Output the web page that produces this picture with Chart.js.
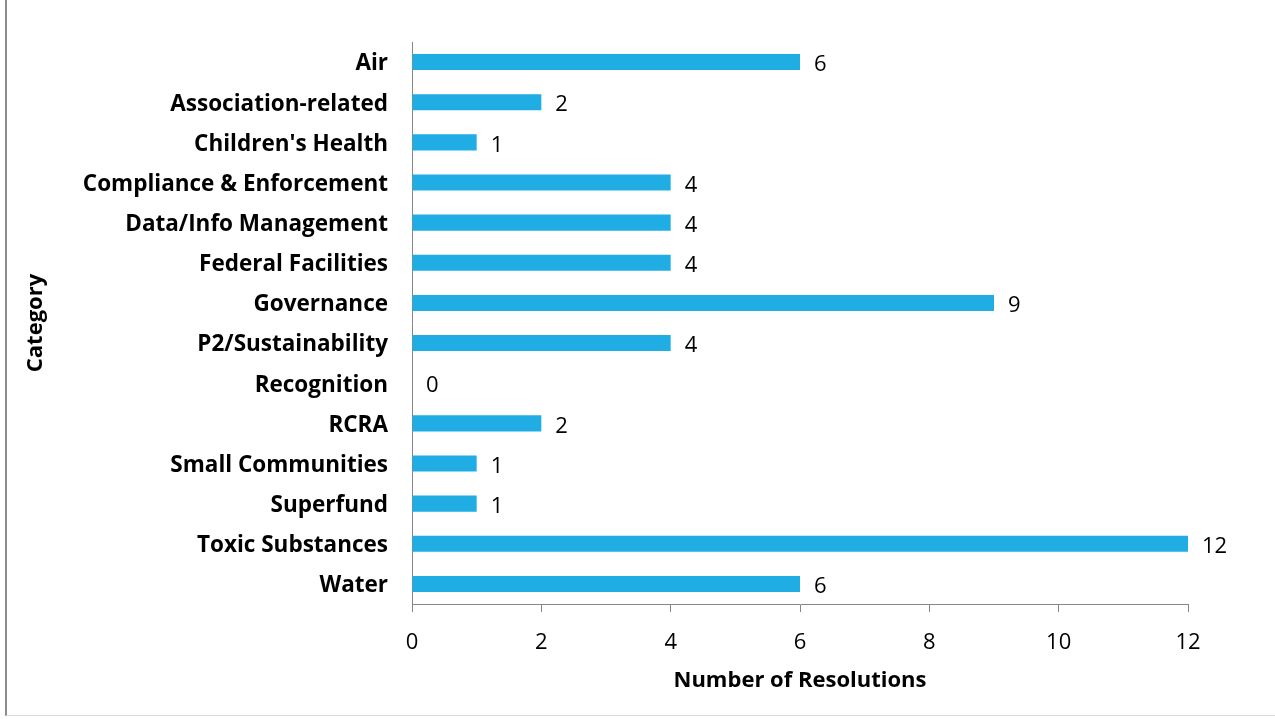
<!DOCTYPE html>
<html><head><meta charset="utf-8">
<script src="https://cdn.jsdelivr.net/npm/chart.js@4.4.1/dist/chart.umd.min.js"></script>
<style>
html,body{margin:0;padding:0;background:#fff;}
#wrap{position:absolute;left:0;top:0;width:1275px;height:719px;}
#frame{position:absolute;left:5px;top:-2px;width:1280px;height:718px;border-left:2px solid #8c8c8c;border-bottom:1px solid #d9d9d9;box-sizing:border-box;pointer-events:none;}
canvas{position:absolute;left:0;top:0;}
</style></head>
<body>
<div id="wrap"><canvas id="c" width="1275" height="719"></canvas><div id="frame"></div></div>
<script>
const categories = ["Air","Association-related","Children's Health","Compliance & Enforcement","Data/Info Management","Federal Facilities","Governance","P2/Sustainability","Recognition","RCRA","Small Communities","Superfund","Toxic Substances","Water"];
const resolutions = [6,2,1,4,4,4,9,4,0,2,1,1,12,6];
const xTicks = [0,2,4,6,8,10,12];
const xTitle = "Number of Resolutions";
const yTitle = "Category";

const FONT = "'Open Sans', sans-serif";
const axisColor = '#868686';

const labelPlugin = {
  id:'barLabels',
  afterDatasetsDraw(chart){
    const ctx = chart.ctx;
    const meta = chart.getDatasetMeta(0);
    ctx.save();
    ctx.font = "22px " + FONT;
    ctx.fillStyle = '#000';
    ctx.textBaseline = 'middle';
    ctx.textAlign = 'left';
    meta.data.forEach((el,i)=>{
      ctx.fillText(String(resolutions[i]), el.x + 14, el.y + 3);
    });
    ctx.restore();
  }
};

new Chart(document.getElementById('c'), {
  type:'bar',
  data:{labels:categories, datasets:[{data:resolutions, backgroundColor:'#1FADE4', borderWidth:0, barPercentage:0.4, categoryPercentage:1.0}]},
  options:{
    indexAxis:'y', responsive:false, animation:false, devicePixelRatio:1,
    layout:{padding:{left:0, top:42, right:87, bottom:0}},
    plugins:{legend:{display:false}, tooltip:{enabled:false}},
    scales:{
      x:{
        min:0, max:12,
        afterBuildTicks(scale){ scale.ticks = xTicks.map(v=>({value:v})); },
        afterFit(scale){ scale.height = 115; },
        grid:{display:true, drawOnChartArea:false, drawTicks:true, tickLength:8, color:axisColor, lineWidth:1},
        border:{display:true, color:axisColor, width:1},
        ticks:{font:{family:FONT, size:22}, color:'#000', padding:18, maxRotation:0},
        title:{display:true, text:xTitle, font:{family:FONT, size:22, weight:'bold'}, color:'#000', padding:{top:0,bottom:25}}
      },
      y:{
        afterFit(scale){ scale.width = 412; },
        grid:{display:false, drawTicks:false},
        border:{display:true, color:axisColor, width:1},
        ticks:{font:{family:FONT, size:22.5, weight:'bold'}, color:'#000', padding:24, autoSkip:false, labelOffset:2},
        title:{display:true, text:yTitle, font:{family:FONT, size:22, weight:'bold'}, color:'#000', padding:{top:23,bottom:0}}
      }
    }
  },
  plugins:[labelPlugin]
});
</script>
</body></html>
